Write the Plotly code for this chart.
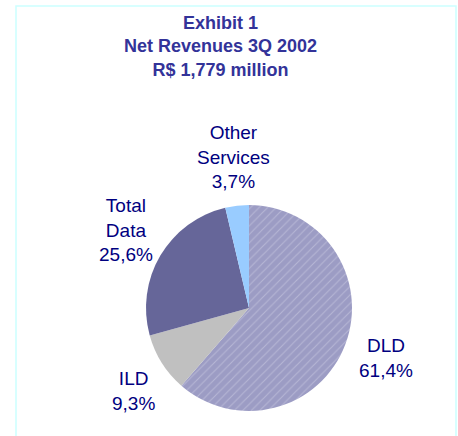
import plotly.graph_objects as go

# Revenue breakdown, 3Q 2002
segments = ["DLD", "ILD", "Total Data", "Other Services"]
shares = [61.4, 9.3, 25.6, 3.7]
label_lines = [["DLD"], ["ILD"], ["Total", "Data"], ["Other", "Services"]]
slice_colors = ["#9c9cc4", "#c0c0c0", "#666699", "#99ccff"]

title_lines = ["Exhibit 1", "Net Revenues 3Q 2002", "R$ 1,779 million"]

W, H = 458, 436
FONT = "Liberation Sans, Arial, sans-serif"
LABEL_COLOR = "#000080"
TITLE_COLOR = "#333399"


def px_x(x):
    return x / W


def px_y(y):
    return 1 - y / H


fig = go.Figure()

fig.add_trace(
    go.Pie(
        labels=segments,
        values=shares,
        sort=False,
        direction="clockwise",
        rotation=0,
        textinfo="none",
        hoverinfo="label+percent",
        showlegend=False,
        domain=dict(x=[px_x(146), px_x(352)], y=[px_y(411), px_y(205)]),
        marker=dict(
            colors=slice_colors,
            line=dict(width=0),
            pattern=dict(
                shape=["/", "", "", ""],
                fgcolor="rgba(225,225,240,0.75)",
                size=6,
                solidity=0.18,
                fillmode="overlay",
            ),
        ),
    )
)


def fmt_share(v):
    return f"{v:.1f}".replace(".", ",") + "%"


# label block centres (pixels)
label_pos = {
    "DLD": (386, 358),
    "ILD": (133, 391),
    "Total Data": (126, 230),
    "Other Services": (233, 157),
}

annotations = []
for seg, val, lines in zip(segments, shares, label_lines):
    x, y = label_pos[seg]
    annotations.append(
        dict(
            text="<br>".join(lines + [fmt_share(val)]),
            x=px_x(x), y=px_y(y), xref="paper", yref="paper",
            xanchor="center", yanchor="middle", showarrow=False,
            align="center",
            font=dict(family=FONT, size=19, color=LABEL_COLOR),
        )
    )

annotations.append(
    dict(
        text="<br>".join(f"<b>{t}</b>" for t in title_lines),
        x=px_x(220), y=px_y(47), xref="paper", yref="paper",
        xanchor="center", yanchor="middle", showarrow=False,
        align="center",
        font=dict(family=FONT, size=18, color=TITLE_COLOR),
    )
)

fig.update_layout(
    width=W, height=H,
    margin=dict(l=0, r=0, t=0, b=0),
    paper_bgcolor="white",
    plot_bgcolor="white",
    annotations=annotations,
    shapes=[
        dict(
            type="rect", xref="paper", yref="paper",
            x0=px_x(16), x1=px_x(456), y0=px_y(445), y1=px_y(6),
            line=dict(color="#ccffff", width=1.5),
            fillcolor="rgba(0,0,0,0)",
        )
    ],
)

fig.write_html("out.html", config={"displayModeBar": False})
